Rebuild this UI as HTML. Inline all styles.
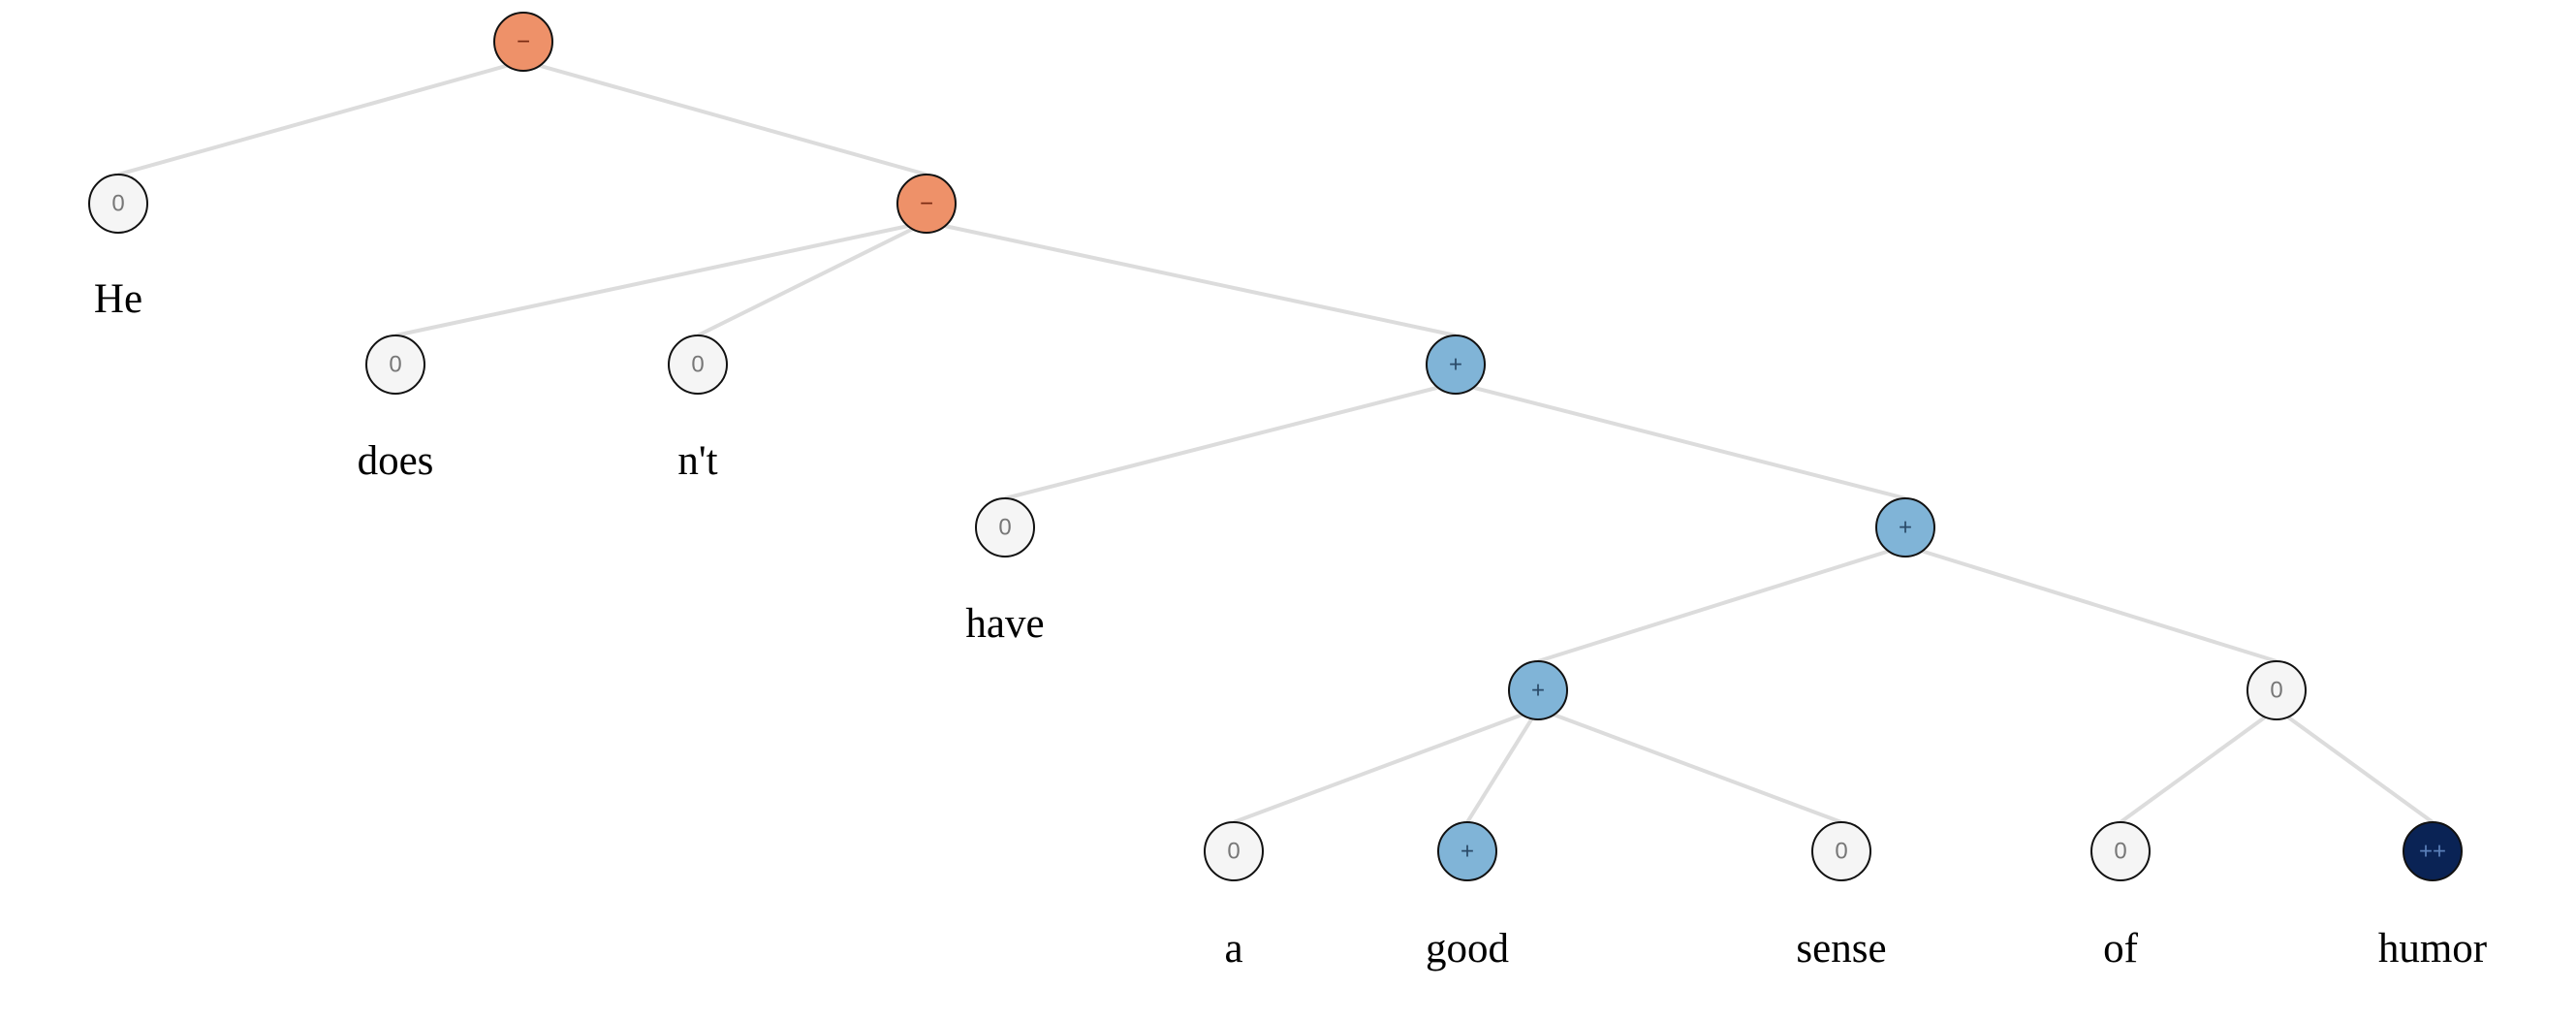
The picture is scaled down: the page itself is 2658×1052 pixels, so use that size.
<!DOCTYPE html>
<html><head><style>
html,body{margin:0;padding:0;background:#fff;width:2658px;height:1052px;overflow:hidden}
</style></head><body>
<svg width="2658" height="1052" xmlns="http://www.w3.org/2000/svg">
<g stroke="#dcdcdc" stroke-width="4" fill="none">
<line x1="540" y1="63" x2="122" y2="180"/>
<line x1="540" y1="63" x2="956" y2="180"/>
<line x1="956" y1="229" x2="408" y2="346"/>
<line x1="956" y1="229" x2="720" y2="346"/>
<line x1="956" y1="229" x2="1502" y2="346"/>
<line x1="1502" y1="395" x2="1037" y2="514"/>
<line x1="1502" y1="395" x2="1966" y2="514"/>
<line x1="1966" y1="563" x2="1587" y2="682"/>
<line x1="1966" y1="563" x2="2349" y2="682"/>
<line x1="1587" y1="731" x2="1273" y2="848"/>
<line x1="1587" y1="731" x2="1514" y2="848"/>
<line x1="1587" y1="731" x2="1900" y2="848"/>
<line x1="2349" y1="731" x2="2188" y2="848"/>
<line x1="2349" y1="731" x2="2510" y2="848"/>
</g>
<g stroke="#111" stroke-width="2">
<circle cx="540" cy="43" r="30" fill="#ee9169"/>
<circle cx="122" cy="210" r="30" fill="#f5f5f5"/>
<circle cx="956" cy="210" r="30" fill="#ee9169"/>
<circle cx="408" cy="376" r="30" fill="#f5f5f5"/>
<circle cx="720" cy="376" r="30" fill="#f5f5f5"/>
<circle cx="1502" cy="376" r="30" fill="#80b4d7"/>
<circle cx="1037" cy="544" r="30" fill="#f5f5f5"/>
<circle cx="1966" cy="544" r="30" fill="#80b4d7"/>
<circle cx="1587" cy="712" r="30" fill="#80b4d7"/>
<circle cx="2349" cy="712" r="30" fill="#f5f5f5"/>
<circle cx="1273" cy="878" r="30" fill="#f5f5f5"/>
<circle cx="1514" cy="878" r="30" fill="#80b4d7"/>
<circle cx="1900" cy="878" r="30" fill="#f5f5f5"/>
<circle cx="2188" cy="878" r="30" fill="#f5f5f5"/>
<circle cx="2510" cy="878" r="30" fill="#0a2355"/>
</g>
<g font-family="Liberation Sans, sans-serif" font-size="24" text-anchor="middle" dominant-baseline="central">
<text x="540" y="43" fill="#7a2a12">−</text>
<text x="956" y="210" fill="#7a2a12">−</text>
<text x="122" y="210" fill="#777">0</text>
<text x="408" y="376" fill="#777">0</text>
<text x="720" y="376" fill="#777">0</text>
<text x="1037" y="544" fill="#777">0</text>
<text x="2349" y="712" fill="#777">0</text>
<text x="1273" y="878" fill="#777">0</text>
<text x="1900" y="878" fill="#777">0</text>
<text x="2188" y="878" fill="#777">0</text>
<text x="1502" y="376" fill="#2a4a68">+</text>
<text x="1966" y="544" fill="#2a4a68">+</text>
<text x="1587" y="712" fill="#2a4a68">+</text>
<text x="1514" y="878" fill="#2a4a68">+</text>
<text x="2510" y="878" fill="#5a7fb8">++</text>
</g>
<g font-family="Liberation Serif, serif" font-size="43" text-anchor="middle" fill="#000">
<text x="122" y="322">He</text>
<text x="408" y="489">does</text>
<text x="720" y="489">n't</text>
<text x="1037" y="657">have</text>
<text x="1273" y="992">a</text>
<text x="1514" y="992">good</text>
<text x="1900" y="992">sense</text>
<text x="2188" y="992">of</text>
<text x="2510" y="992">humor</text>
</g>
</svg>
</body></html>
